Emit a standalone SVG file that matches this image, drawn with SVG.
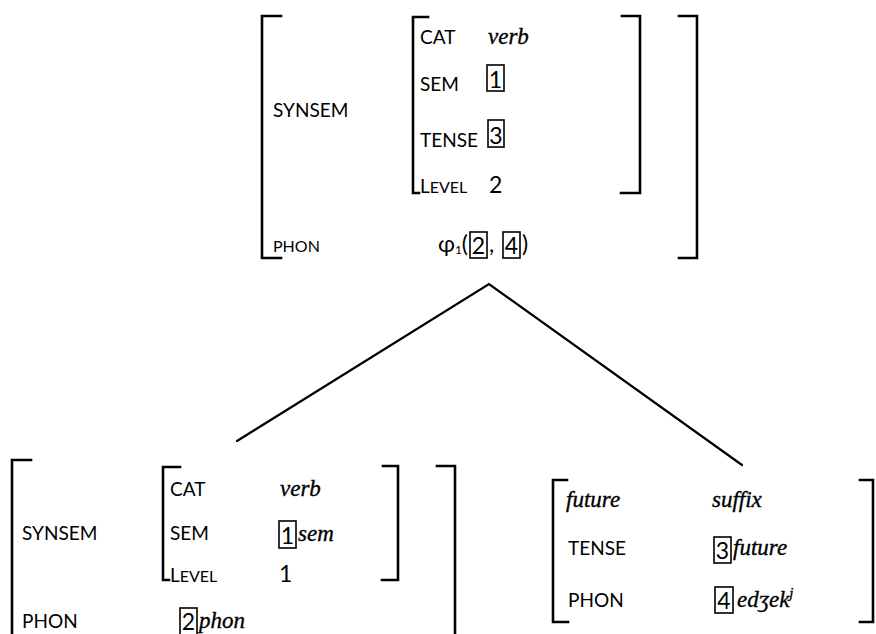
<svg xmlns="http://www.w3.org/2000/svg" width="876" height="634" viewBox="0 0 876 634">
<style>
.b{fill:none;stroke:#000;stroke-width:2.6;stroke-linecap:square;stroke-linejoin:miter}
.bx{fill:none;stroke:#000;stroke-width:1.6}
.ln{fill:none;stroke:#000;stroke-width:2.2;stroke-linecap:round}
.c{font-family:"Lato","Noto Sans",sans-serif;font-size:19px;fill:#000}
.s{font-family:"Lato","Noto Sans",sans-serif;font-size:16px;fill:#000}
.d{font-family:"Lato","Noto Sans",sans-serif;font-size:23px;fill:#000}
.i{font-family:"Liberation Serif","DejaVu Serif",serif;font-style:italic;font-size:23px;fill:#000;stroke:#000;stroke-width:0.35}
</style>
<rect width="876" height="634" fill="#fff"/>
<g id="connectors">
<path class="ln" d="M237,441 L489,284 L742,465"/>
</g>
<g id="mother">
<path class="b" d="M281,16 H262 V258 H281"/>
<path class="b" d="M679,16 H697 V258 H679"/>
<path class="b" d="M428,17 H413 V193 H419"/>
<path class="b" d="M622,16 H640 V193 H621"/>
<text class="c" x="273" y="117">SYNSEM</text>
<text class="c" x="420" y="44">CAT</text>
<text class="i" x="488" y="44">verb</text>
<text class="c" x="420" y="91">SEM</text>
<rect class="bx" x="487" y="65" width="17" height="26"/>
<text class="d" x="495.5" y="88" text-anchor="middle">1</text>
<text class="c" x="420" y="147">TENSE</text>
<rect class="bx" x="488" y="120" width="16" height="27"/>
<text class="d" x="496" y="144" text-anchor="middle">3</text>
<text class="c" x="420" y="193">L<tspan class="s">EVEL</tspan></text>
<text class="d" x="489" y="193">2</text>
<text class="s" x="273" y="252" font-size="17">PHON</text>
<text class="d" x="468" y="252" text-anchor="end">φ<tspan font-size="12" dy="2">1</tspan><tspan dy="-2">(</tspan></text>
<rect class="bx" x="470" y="232" width="17" height="26"/>
<text class="d" x="478.5" y="254" text-anchor="middle">2</text>
<text class="d" x="489" y="252">,</text>
<rect class="bx" x="503" y="232" width="17" height="26"/>
<text class="d" x="511.5" y="254" text-anchor="middle">4</text>
<text class="d" x="522" y="252">)</text>
</g>
<g id="stem">
<path class="b" d="M31,460 H12 V640"/>
<path class="b" d="M437,466 H455 V640"/>
<path class="b" d="M180,467 H163 V580 H169"/>
<path class="b" d="M383,466 H398 V580 H382"/>
<text class="c" x="22" y="540">SYNSEM</text>
<text class="c" x="170" y="496">CAT</text>
<text class="i" x="280" y="496">verb</text>
<text class="c" x="170" y="540">SEM</text>
<rect class="bx" x="279" y="521" width="17" height="27"/>
<text class="d" x="287.5" y="544" text-anchor="middle">1</text>
<text class="i" x="298" y="541">sem</text>
<text class="c" x="170" y="582">L<tspan class="s">EVEL</tspan></text>
<text class="d" x="279" y="582">1</text>
<text class="c" x="22" y="628">PHON</text>
<rect class="bx" x="180" y="608" width="17" height="30"/>
<text class="d" x="188.5" y="630" text-anchor="middle">2</text>
<text class="i" x="199" y="628">phon</text>
</g>
<g id="suffix">
<path class="b" d="M567,480 H553 V622 H568"/>
<path class="b" d="M860,480 H873 V622 H860"/>
<text class="i" x="566" y="507">future</text>
<text class="i" x="712" y="507">suffix</text>
<text class="c" x="568" y="555">TENSE</text>
<rect class="bx" x="714" y="537" width="17" height="26"/>
<text class="d" x="722.5" y="559" text-anchor="middle">3</text>
<text class="i" x="733" y="555">future</text>
<text class="c" x="568" y="607">PHON</text>
<rect class="bx" x="715" y="587" width="18" height="26"/>
<text class="d" x="724" y="609" text-anchor="middle">4</text>
<text class="i" x="737" y="607">edʒek<tspan font-size="15" dy="-9">j</tspan></text>
</g>
</svg>
